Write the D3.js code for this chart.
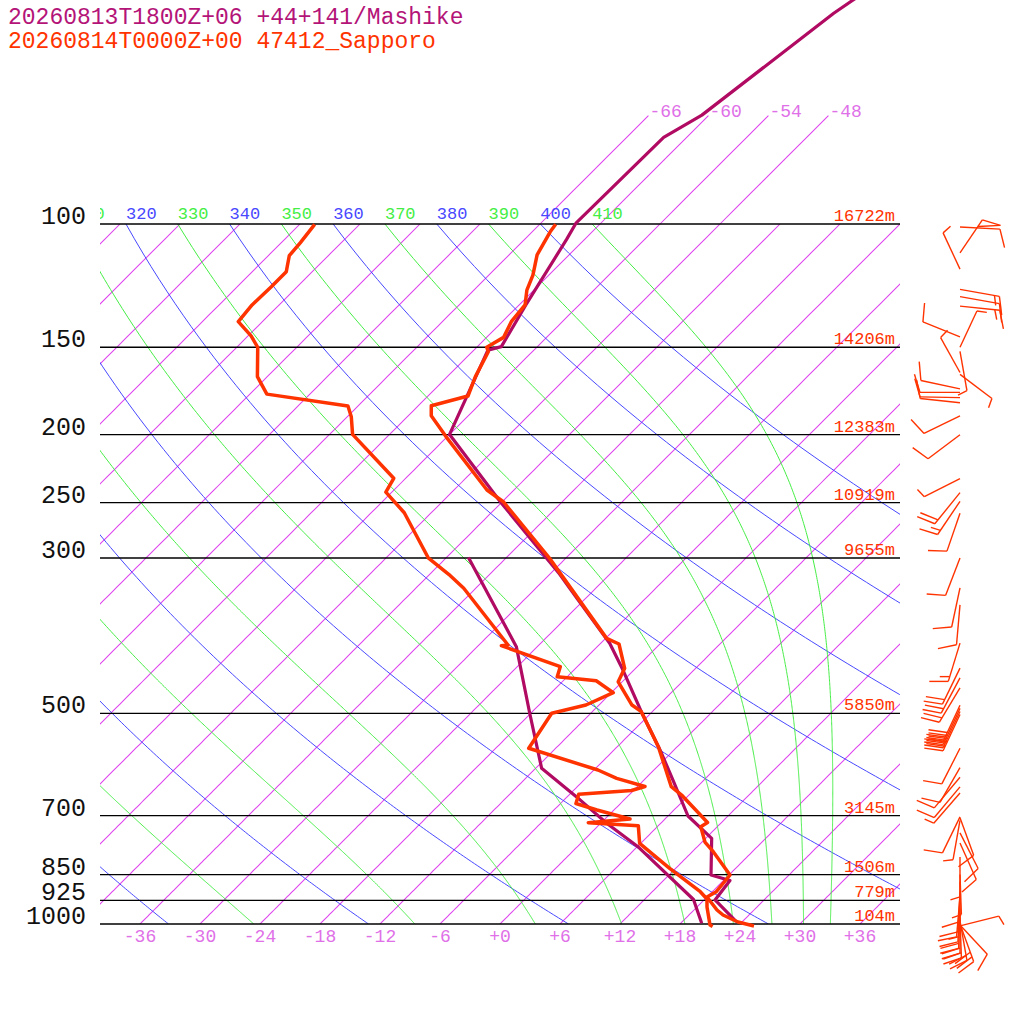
<!DOCTYPE html>
<html><head><meta charset="utf-8">
<script src="https://cdn.jsdelivr.net/npm/d3@7"></script>
<style>body{margin:0;background:#fff}</style>
</head><body>
<svg id="c" width="1024" height="1024" xmlns="http://www.w3.org/2000/svg"></svg>
<script>
// ---------- data ----------
const titleLines = ["20260813T1800Z+06 +44+141/Mashike", "20260814T0000Z+00 47412_Sapporo"];
const pressureLevels = [100, 150, 200, 250, 300, 500, 700, 850, 925, 1000];
const heightLabels = ["16722m", "14206m", "12383m", "10919m", "9655m", "5850m", "3145m", "1506m", "779m", "104m"];
const tempTicks = [-36, -30, -24, -18, -12, -6, 0, 6, 12, 18, 24, 30, 36];
const isothermTopLabels = [-66, -60, -54, -48];
const dryAdiabats = [240, 260, 280, 300, 320, 340, 360, 380, 400];
const moistAdiabats = [250, 270, 290, 310, 330, 350, 370, 390, 410];
const thetaLabelsDry = [320, 340, 360, 380, 400];
const thetaLabelsMoist = [310, 330, 350, 370, 390, 410];

// Sapporo temperature
const sapTempP = [100.1,102.6,110.7,118.3,124.3,130.5,137.9,145.2,150.0,152.2,165.2,176.1,181.8,187.9,201.4,239.9,249.3,300.4,390.8,398.1,431.3,450.8,486.6,497.4,558.0,636.6,656.3,716.1,726.1,763.7,788.4,851.1,899.2,915.0,955.0,970.8,993.4,1006.6];
const sapTempT = [-64.4,-64.2,-63.2,-61.6,-60.7,-59.4,-59.1,-58.3,-59.0,-58.4,-57.2,-56.0,-58.7,-57.7,-54.1,-44.7,-41.9,-31.6,-17.9,-16.1,-13.1,-12.4,-8.7,-7.1,-1.9,3.4,5.45,10.6,10.35,12.3,14.1,18.1,18.4,18.0,20.3,21.4,23.6,25.6];
// Sapporo dew point
const sapDewP = [100.1,106.3,111.0,117.0,122.9,130.5,137.9,144.5,150.0,165.2,175.0,182.0,188.5,199.8,230.8,241.6,258.5,299.8,316.5,331.4,399.4,400.3,429.0,443.4,449.3,467.3,486.6,500.0,561.0,602.6,619.3,636.2,644.6,652.7,672.8,687.3,707.9,716.6,723.7,767.0,832.7,899.2,921.1,945.6,1003.3,1008.0];
const sapDewT = [-88.5,-88.1,-87.9,-86.6,-86.6,-86.7,-86.4,-83.7,-81.9,-79.0,-76.3,-67.0,-65.6,-63.7,-55.2,-54.6,-50.7,-43.8,-40.1,-37.2,-27.1,-27.7,-19.7,-19.0,-14.7,-11.8,-13.3,-15.9,-14.7,-5.6,-2.9,0.75,-0.2,-5.1,-4.45,-1.7,2.5,-1.3,4.0,5.9,11.4,16.8,18.2,19.0,21.1,21.5];
// Mashike temperature
const masTempP = [46.3,47.9,50.0,69.9,75.2,99.6,105.2,130.8,149.7,151.4,199.8,249.3,316.5,344.4,397.2,433.7,497.4,564.1,622.8,701.0,754.4,851.1,866.8,924.0,992.5];
const masTempT = [-56.6,-57.1,-57.7,-60.7,-62.3,-62.5,-61.8,-59.3,-57.6,-58.6,-54.0,-42.2,-29.0,-24.6,-17.1,-13.1,-7.1,-1.4,2.9,8.0,12.6,16.2,18.65,19.1,23.4];
// Mashike dew point
const masDewP = [299.6,401.6,500.0,599.3,657.8,718.0,777.1,922.6,997.7];
const masDewT = [-39.8,-26.1,-18.1,-11.4,-5.1,0.6,6.2,16.9,20.1];

// Sapporo winds (pressure hPa, direction deg, speed)
const windP   = [101,110,116,124,127,131,145,150,152,163,164,172,174,177,180,188,200,231,242,249,259,300,331,350,397,431,445,460,487,492,497,502,561,598,617,637,650,703,705,711,741,766,802,850,870,900,915,930,950,965,980,990,1000,1003,1006];
const windDir = [93,34,335,100,100,96,292,25,170,331,127,282,270,271,276,244,233,243,219,214,199,201,192,185,197,206,208,211,205,205,205,205,207,210,220,220,221,206,160,190,153,156,180,178,180,183,185,183,182,180,178,170,160,137,76];
const windSpd = [10,50,5,15,10,15,10,5,5,5,5,10,10,10,10,10,10,5,20,15,10,10,10,10,15,20,20,20,30,30,30,30,10,10,10,10,5,10,10,5,10,10,5,5,10,10,10,15,20,20,20,20,30,10,5];

// ---------- layout ----------
const FONT = "'Liberation Mono','DejaVu Sans Mono',monospace";
const RED = "#ff3300", MAG = "#b00a62", ISO = "rgb(222,64,238)", ISOLAB = "#e070e8", DRY = "#4848ff", MOIST = "#44ee44", TITLE1 = "#b41478";
const svg = d3.select("#c");
const y = d3.scaleLog().domain([1000, 100]).range([924, 224]);
const tx = d3.scaleLinear().domain([0, 36]).range([500, 860]);
const X0 = 100, X1 = 900, Y0 = y(100), Y1 = y(1000);
const skx = (T, p) => tx(T) + (Y1 - y(p));

const defs = svg.append("defs");
defs.append("clipPath").attr("id","plot")
  .append("rect").attr("x",X0).attr("y",Y0).attr("width",X1-X0).attr("height",Y1-Y0);
defs.append("clipPath").attr("id","labclip")
  .append("rect").attr("x",X0).attr("y",0).attr("width",X1-X0).attr("height",1024);

const line = d3.line().x(d => skx(d[1], d[0])).y(d => y(d[0]));
const pRange = d3.range(100, 1000.01, 5);

const bg = svg.append("g").attr("clip-path","url(#plot)").attr("fill","none");
// isotherms (sampled along pressure)
d3.range(-150, 43, 6).forEach(T => {
  bg.append("path").attr("d", line(pRange.map(p => [p, T])))
    .attr("stroke", ISO).attr("stroke-width", 1.05).attr("fill","none");
});
// dry adiabats
const kappa = 0.2857;
dryAdiabats.forEach(th => {
  const pts = pRange.map(p => [p, th*Math.pow(p/1000,kappa) - 273.15]);
  bg.append("path").attr("d", line(pts)).attr("stroke", DRY).attr("stroke-width",1).attr("fill","none");
});
// moist adiabats: integrate pseudo-adiabatic lapse rate from 100 hPa downward
function dTdp(T, p) {
  const Rd=287.04, Cp=1005.7, Lv=2.501e6, eps=0.622;
  const Tc = T - 273.15;
  const es = 6.112*Math.exp(17.67*Tc/(Tc+243.5));
  const rs = eps*es/(p-es);
  return (Rd*T + Lv*rs)/(Cp + Lv*Lv*rs*eps/(Rd*T*T))/p;
}
moistAdiabats.forEach(th => {
  let p = 100, T = th*Math.pow(0.1,kappa);
  const pts = [[p, T-273.15]];
  const h = 2;
  while (p < 1000) {
    const k1 = dTdp(T,p), k2 = dTdp(T+k1*h/2,p+h/2), k3 = dTdp(T+k2*h/2,p+h/2), k4 = dTdp(T+k3*h,p+h);
    T += h*(k1+2*k2+2*k3+k4)/6; p += h;
    pts.push([p, T-273.15]);
  }
  bg.append("path").attr("d", line(pts)).attr("stroke", MOIST).attr("stroke-width",1).attr("fill","none");
});
// extended isotherms above 100 hPa
isothermTopLabels.forEach(T => {
  svg.append("path").attr("d", line(d3.range(100, 69.9, -5).map(p => [p, T])))
    .attr("stroke", ISO).attr("stroke-width", 1.05).attr("fill","none");
  svg.append("text").attr("x", skx(T,70)+1).attr("y", y(70)+1).text(String(T))
    .attr("font-family",FONT).attr("font-size",18).attr("fill",ISOLAB);
});
// theta labels at top (only the part inside the plot width is shown)
const lab = svg.append("g").attr("clip-path","url(#labclip)");
const charW = 17*0.6;
function thetaLabel(th, col) {
  const x = skx(th*Math.pow(0.1,kappa)-273.15,100);
  const s = String(th);
  let k = 0;
  while (k < s.length && x + (k+1)*charW < X0) k++;
  lab.append("text").attr("x", x + k*charW).attr("y", Y0-5).text(s.slice(k))
    .attr("font-family",FONT).attr("font-size",17).attr("fill",col);
}
thetaLabelsDry.forEach(th => thetaLabel(th, DRY));
thetaLabelsMoist.forEach(th => thetaLabel(th, MOIST));

// pressure lines and labels
pressureLevels.forEach((p,i) => {
  svg.append("line").attr("x1",X0).attr("x2",X1).attr("y1",y(p)).attr("y2",y(p))
    .attr("stroke","#000").attr("stroke-width",1.3);
  svg.append("text").attr("x",86).attr("y",y(p)).attr("text-anchor","end").text(p)
    .attr("font-family",FONT).attr("font-size",25).attr("fill","#111");
  svg.append("text").attr("x",895).attr("y",y(p)-3).attr("text-anchor","end").text(heightLabels[i])
    .attr("font-family",FONT).attr("font-size",17).attr("fill",RED);
});
// temperature axis labels
tempTicks.forEach(T => {
  svg.append("text").attr("x", tx(T)).attr("y", 942).attr("text-anchor","middle")
    .text((T>=0?"+":"")+T).attr("font-family",FONT).attr("font-size",18).attr("fill",ISOLAB);
});

// profiles
const zip = (P,T) => P.map((p,i)=>[p,T[i]]);
const prof = svg.append("g").attr("fill","none").attr("stroke-linejoin","round");
prof.append("path").attr("d", line(zip(masDewP,masDewT))).attr("stroke",MAG).attr("stroke-width",3.2);
prof.append("path").attr("d", line(zip(masTempP,masTempT))).attr("stroke",MAG).attr("stroke-width",3.2);
prof.append("path").attr("d", line(zip(sapDewP,sapDewT))).attr("stroke",RED).attr("stroke-width",3.5);
prof.append("path").attr("d", line(zip(sapTempP,sapTempT))).attr("stroke",RED).attr("stroke-width",3.5);

// wind barbs
const wb = svg.append("g").attr("stroke",RED).attr("stroke-width",1.4).attr("fill","none");
const bx = 960, L = 40;
windP.forEach((p,i) => {
  const a = windDir[i]*Math.PI/180;
  const s = [Math.sin(a), -Math.cos(a)];
  const pp = [-s[1], s[0]];
  const ang = 73*Math.PI/180;
  const td = [Math.cos(ang)*s[0]+Math.sin(ang)*pp[0], Math.cos(ang)*s[1]+Math.sin(ang)*pp[1]];
  const by = y(p);
  const tip = [bx+s[0]*L, by+s[1]*L];
  wb.append("line").attr("x1",bx).attr("y1",by).attr("x2",tip[0]).attr("y2",tip[1]);
  let rem = Math.round(windSpd[i]/5)*5, pos = 0;
  const at = d => [tip[0]-s[0]*d, tip[1]-s[1]*d];
  while (rem >= 50) {
    const A = at(pos), B = at(pos+8);
    const O = [A[0]+td[0]*19, A[1]+td[1]*19];
    wb.append("path").attr("d", `M${A[0]},${A[1]}L${O[0]},${O[1]}L${B[0]},${B[1]}`);
    pos += 10; rem -= 50;
  }
  while (rem >= 10) {
    const A = at(pos);
    wb.append("line").attr("x1",A[0]).attr("y1",A[1]).attr("x2",A[0]+td[0]*19).attr("y2",A[1]+td[1]*19);
    pos += 5; rem -= 10;
  }
  if (rem >= 5) {
    const A = at(pos);
    wb.append("line").attr("x1",A[0]).attr("y1",A[1]).attr("x2",A[0]+td[0]*10).attr("y2",A[1]+td[1]*10);
  }
});

// titles
svg.append("text").attr("x",8).attr("y",24).text(titleLines[0])
  .attr("font-family",FONT).attr("font-size",23).attr("fill",TITLE1);
svg.append("text").attr("x",8).attr("y",48).text(titleLines[1])
  .attr("font-family",FONT).attr("font-size",23).attr("fill",RED);
</script>
</body></html>
